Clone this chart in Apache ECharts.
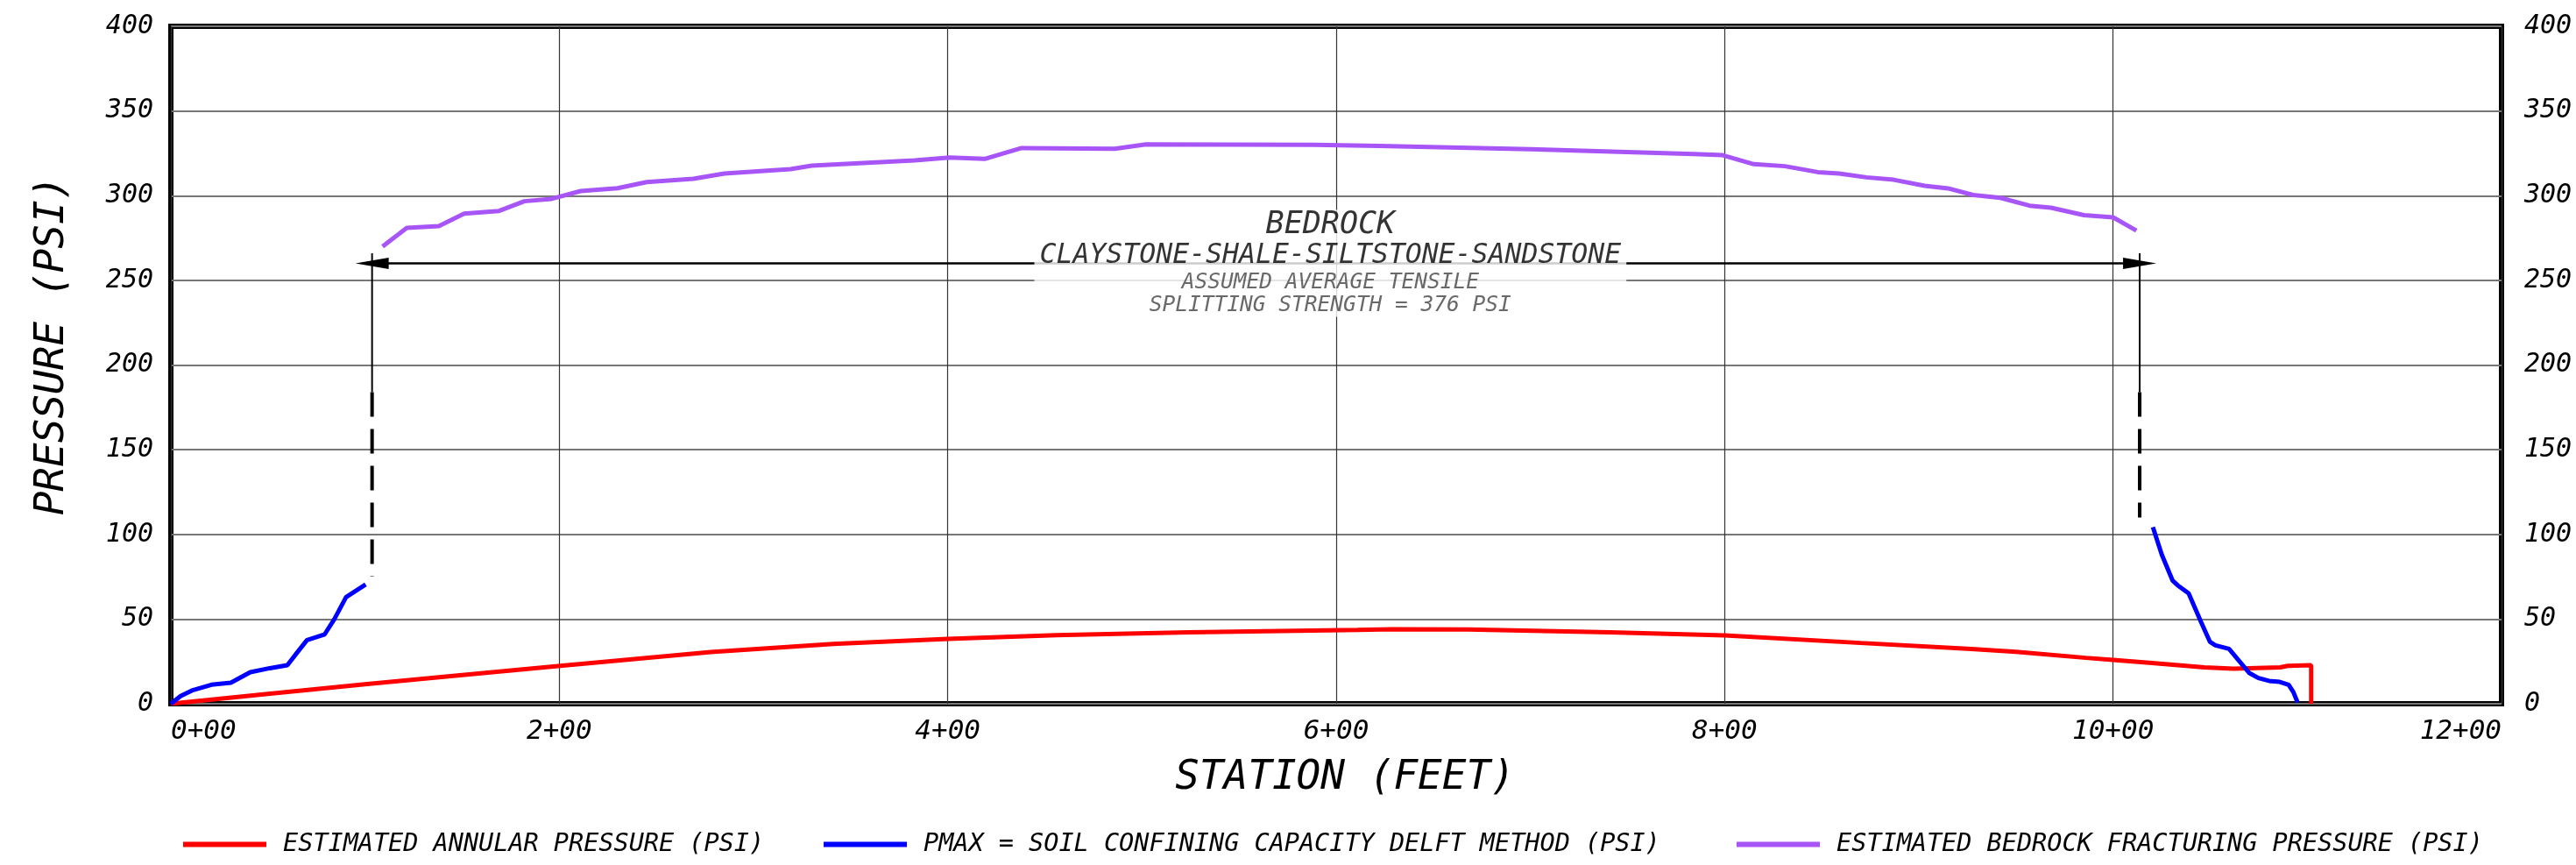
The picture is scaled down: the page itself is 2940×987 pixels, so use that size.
<!DOCTYPE html>
<html>
<head>
<meta charset="utf-8">
<title>Pressure vs Station</title>
<script src="https://cdn.jsdelivr.net/npm/echarts@6/dist/echarts.min.js"></script>
<style>
  html, body { margin: 0; padding: 0; background: #fff; }
  #chart { width: 2940px; height: 987px; }
</style>
</head>
<body>
<div id="chart"></div>
<script>
const stationLabels = ['0+00', '2+00', '4+00', '6+00', '8+00', '10+00', '12+00']

// [station ft, psi]
const annularPressure = [
  [0, 0], [50, 5.8], [100, 11.5], [150, 17], [200.5, 22.4], [278, 30.5], [341, 35.3],
  [400, 38.3], [456, 40.5], [524, 42.2], [611, 43.6], [629, 44.0], [668, 43.8],
  [741, 42.2], [800, 40.4], [870, 35.9], [927, 32.4], [950, 30.6], [986, 27.1],
  [1000, 25.9], [1020, 24.1], [1047, 21.5], [1062, 20.7], [1086, 21.5], [1090, 22.4],
  [1102, 22.8], [1102, 0]
]
const pmaxStart = [
  [0, 0], [5, 4.5], [10.8, 7.8], [20.9, 11.2], [30.9, 12.4], [40.9, 18.6], [51, 21],
  [60, 22.8], [65, 30.2], [70.1, 37.6], [79.2, 41], [84.2, 50], [90.2, 62.9], [100.3, 70.4]
]
const pmaxEnd = [
  [1020.5, 104.3], [1025.1, 88], [1030.6, 72.8], [1033.3, 69.9], [1038.9, 65.2],
  [1045.3, 48.3], [1049.9, 36.5], [1052.7, 34.5], [1059.7, 32.4], [1064.7, 25.5],
  [1070.2, 18.1], [1074.8, 15.2], [1080.3, 13.5], [1085.8, 12.9], [1090.4, 11.2],
  [1092.8, 6.9], [1095, 0.8]
]
const fracturePressure = [
  [109, 270], [121.5, 281], [138, 282], [151, 289.4], [169, 291], [182, 296.7],
  [196, 298.1], [211, 302.7], [230, 304.4], [245, 308], [269, 310], [285, 313.1],
  [319, 315.7], [330, 317.7], [383, 320.8], [401, 322.5], [419, 321.7], [438, 328.1],
  [486, 327.7], [502, 330.3], [589, 330], [622, 329.4], [700, 327.4], [784, 324.6],
  [799, 323.9], [815, 318.6], [831, 317.4], [848, 313.9], [859, 313.1], [873, 310.8],
  [887, 309.4], [903, 305.8], [915, 304.3], [928, 300.4], [942, 298.7], [957, 294.1],
  [968, 292.9], [985, 288.5], [1000, 287.2], [1012, 279.4]
]

// bedrock dimension marks
const bedrockLimits = [103.6, 1013.7]
const dimTop = 266
const dimSolidEnd = 184
const dimDashEnd = [75, 110]
const arrowLevel = 260
const noteAt = [597, 260]

const names = [
  'ESTIMATED ANNULAR PRESSURE (PSI)',
  'PMAX = SOIL CONFINING CAPACITY DELFT METHOD (PSI)',
  'ESTIMATED BEDROCK FRACTURING PRESSURE (PSI)'
]
const colors = ['#ff0000', '#0000ff', '#a855f7']

const font = "'DejaVu Sans Mono', 'Liberation Mono', monospace"
const chart = echarts.init(document.getElementById('chart'))

const legendBase = {
  top: 944,
  icon: 'rect',
  itemWidth: 95,
  itemHeight: 6,
  textStyle: {
    fontFamily: font,
    fontStyle: 'italic',
    fontSize: 28.5,
    color: '#000',
    padding: [0, 0, 0, 14]
  }
}

const yAxisBase = {
  type: 'value',
  min: 0,
  max: 400,
  interval: 50,
  axisLine: { show: false },
  axisTick: { show: false },
  axisLabel: {
    fontFamily: font,
    fontStyle: 'italic',
    fontSize: 30,
    color: '#000'
  }
}

function dimLine(x, y1, y2, dashed) {
  return {
    type: 'line',
    silent: true,
    symbol: 'none',
    z: 3,
    lineStyle: dashed
      ? { color: '#000', width: 4, type: [28, 14] }
      : { color: '#000', width: 2 },
    data: [[x, y1], [x, y2]]
  }
}

chart.setOption({
  animation: false,
  grid: {
    left: 195,
    right: 85,
    top: 30,
    bottom: 184,
    show: true,
    borderColor: '#000',
    borderWidth: 6
  },
  legend: [
    Object.assign({}, legendBase, { left: 204, data: [names[0]] }),
    Object.assign({}, legendBase, { left: 935, data: [names[1]] }),
    Object.assign({}, legendBase, { left: 1977, data: [names[2]] })
  ],
  xAxis: {
    type: 'value',
    min: 0,
    max: 1200,
    interval: 200,
    name: 'STATION (FEET)',
    nameLocation: 'middle',
    nameGap: 62,
    nameTextStyle: {
      fontFamily: font,
      fontStyle: 'italic',
      fontSize: 46,
      color: '#000',
      padding: [0, 0, 0, 20]
    },
    axisLine: { show: false },
    axisTick: { show: false },
    axisLabel: {
      margin: 16,
      fontFamily: font,
      fontStyle: 'italic',
      fontSize: 31,
      color: '#000',
      alignMinLabel: 'left',
      alignMaxLabel: 'right',
      formatter: v => stationLabels[Math.round(v / 200)]
    },
    splitLine: { lineStyle: { color: '#333', width: 1.2 } }
  },
  yAxis: [
    Object.assign({}, yAxisBase, {
      position: 'left',
      name: 'PRESSURE (PSI)',
      nameLocation: 'middle',
      nameGap: 112,
      nameTextStyle: {
        fontFamily: font,
        fontStyle: 'italic',
        fontSize: 46,
        color: '#000',
        padding: [0, 0, 0, 44]
      },
      axisLabel: Object.assign({}, yAxisBase.axisLabel, { margin: 20 }),
      splitLine: { lineStyle: { color: '#777', width: 2 } }
    }),
    Object.assign({}, yAxisBase, {
      position: 'right',
      axisLabel: Object.assign({}, yAxisBase.axisLabel, { margin: 26 }),
      splitLine: { show: false }
    })
  ],
  series: [
    {
      name: names[0],
      type: 'line',
      symbol: 'none',
      color: colors[0],
      lineStyle: { width: 5 },
      data: annularPressure
    },
    {
      name: names[1],
      type: 'line',
      symbol: 'none',
      color: colors[1],
      lineStyle: { width: 5 },
      data: pmaxStart
    },
    {
      name: names[1],
      type: 'line',
      symbol: 'none',
      color: colors[1],
      lineStyle: { width: 5 },
      data: pmaxEnd
    },
    {
      name: names[2],
      type: 'line',
      symbol: 'none',
      color: colors[2],
      lineStyle: { width: 5 },
      data: fracturePressure
    },
    Object.assign(dimLine(bedrockLimits[0], dimTop, dimSolidEnd, false), {
      markLine: {
        silent: true,
        symbol: ['triangle', 'triangle'],
        symbolSize: [13, 38],
        label: { show: false },
        lineStyle: { color: '#000', width: 2.7, type: 'solid' },
        data: [[
          { coord: [bedrockLimits[0], arrowLevel] },
          { coord: [bedrockLimits[1], arrowLevel] }
        ]]
      }
    }),
    dimLine(bedrockLimits[0], dimSolidEnd, dimDashEnd[0], true),
    dimLine(bedrockLimits[1], dimTop, dimSolidEnd, false),
    dimLine(bedrockLimits[1], dimSolidEnd, dimDashEnd[1], true),
    {
      type: 'scatter',
      silent: true,
      z: 10,
      symbolSize: 1,
      itemStyle: { color: 'rgba(0,0,0,0)' },
      data: [noteAt],
      label: {
        show: true,
        position: 'inside',
        backgroundColor: '#fff',
        padding: [0, 6],
        align: 'center',
        formatter: '{a|BEDROCK}\n{b|CLAYSTONE-SHALE-SILTSTONE-SANDSTONE}\n{c|ASSUMED AVERAGE TENSILE}\n{c|SPLITTING STRENGTH = 376 PSI}',
        rich: {
          a: { fontFamily: font, fontStyle: 'italic', fontSize: 35, lineHeight: 34, color: '#000', align: 'center' },
          b: { fontFamily: font, fontStyle: 'italic', fontSize: 31.5, lineHeight: 36, color: '#000', align: 'center' },
          c: { fontFamily: font, fontStyle: 'italic', fontSize: 24.5, lineHeight: 26, color: '#444', align: 'center' }
        }
      }
    }
  ]
})
</script>
</body>
</html>
